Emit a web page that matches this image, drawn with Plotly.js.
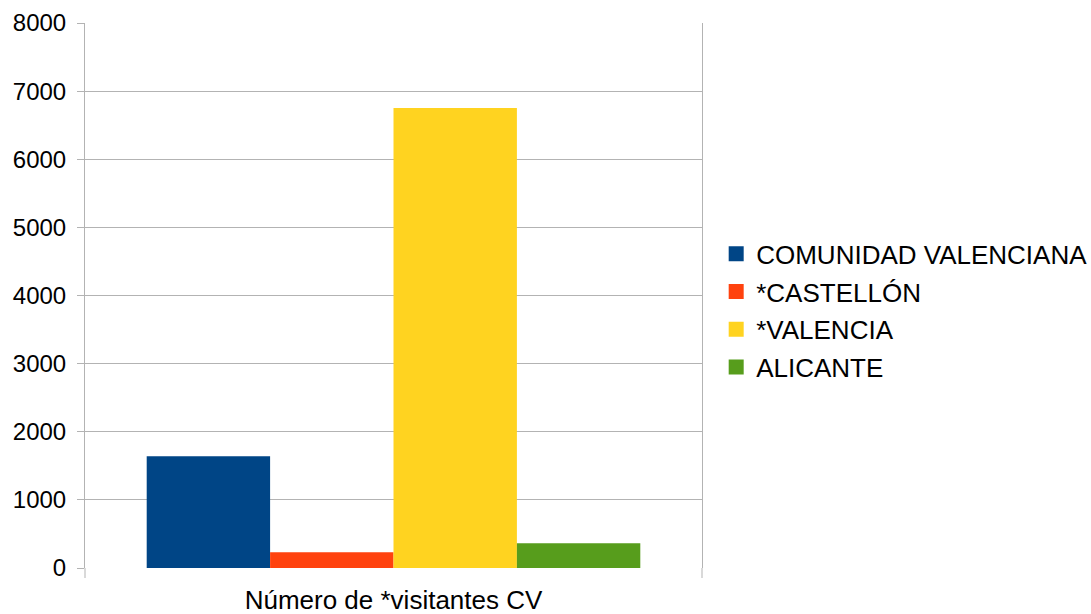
<!DOCTYPE html>
<html><head><meta charset="utf-8">
<script src="https://cdn.plot.ly/plotly-3.0.1.min.js"></script>
<style>html,body{margin:0;padding:0;background:#fff}#chart{width:1091px;height:614px}</style>
</head><body><div id="chart"></div>
<script>
const category = ['Número de *visitantes CV'];
const seriesNames = ['COMUNIDAD VALENCIANA', '*CASTELLÓN', '*VALENCIA', 'ALICANTE'];
const seriesValues = [1642, 231, 6752, 363];
const seriesColors = ['#004586', '#ff420e', '#ffd320', '#579d1c'];
const yTicks = [0, 1000, 2000, 3000, 4000, 5000, 6000, 7000, 8000];

const FONT = 'Liberation Sans, Arial, sans-serif';
const traces = [];
seriesNames.forEach((n, i) => {
  traces.push({type: 'bar', name: n, x: category, y: [seriesValues[i]],
    marker: {color: seriesColors[i]}, showlegend: false, hoverinfo: 'y'});
});
seriesNames.forEach((n, i) => {
  traces.push({type: 'scatter', mode: 'markers', name: n, x: [null], y: [null],
    legendgroup: 'g' + i,
    marker: {symbol: 'square', size: 15, color: seriesColors[i]}});
});

const layout = {
  width: 1091, height: 614,
  margin: {l: 85, r: 389, t: 23, b: 46, autoexpand: false},
  paper_bgcolor: '#fff', plot_bgcolor: '#fff',
  font: {family: FONT, size: 24, color: '#000'},
  barmode: 'group', bargap: 0.2, bargroupgap: 0,
  xaxis: {type: 'category', ticks: 'outside', ticklen: 9, tickcolor: 'rgba(0,0,0,0)',
    showline: false, showgrid: false, tickfont: {size: 26}, automargin: false},
  yaxis: {range: [0, 8000], tickvals: yTicks, ticks: 'outside', ticklen: 7, tickcolor: '#b3b3b3',
    showgrid: true, gridcolor: '#b3b3b3', gridwidth: 1, zeroline: false,
    showline: true, mirror: true, linecolor: '#b3b3b3', linewidth: 1,
    ticklabelstandoff: 6, tickfont: {size: 24}, automargin: false},
  legend: {x: 1.023, xanchor: 'left', y: 0.472, yanchor: 'middle', font: {size: 26},
    traceorder: 'grouped', tracegroupgap: 1, itemclick: false},
  shapes: [
    {type: 'line', xref: 'paper', yref: 'paper', x0: 0, x1: 0, y0: 0, y1: -10/545, line: {color: '#b3b3b3', width: 1}},
    {type: 'line', xref: 'paper', yref: 'paper', x0: 1, x1: 1, y0: 0, y1: -10/545, line: {color: '#b3b3b3', width: 1}}
  ],
  showlegend: true
};
Plotly.newPlot('chart', traces, layout, {displayModeBar: false, staticPlot: true});
</script></body></html>
